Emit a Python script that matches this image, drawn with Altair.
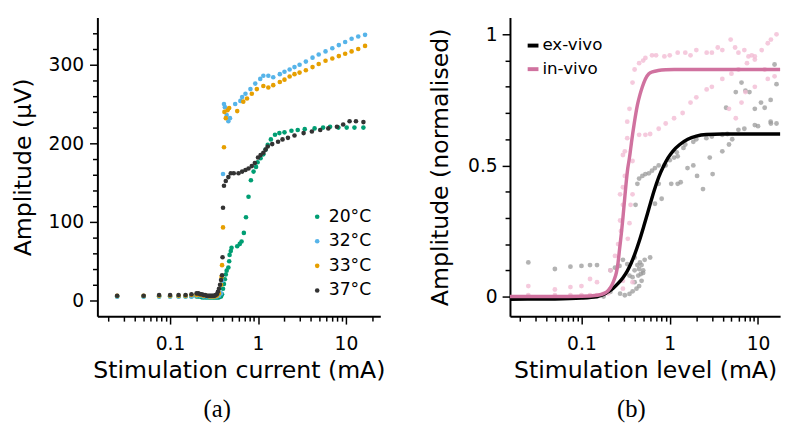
import altair as alt
import pandas as pd

FONT = "DejaVu Sans"

# ---------------- Panel (a): amplitude vs stimulation current ----------------
temps = ["20°C", "32°C", "33°C", "37°C"]
temp_colors = ["#009E73", "#56B4E9", "#E69F00", "#333333"]

x_20 = [0.025, 0.05, 0.075, 0.1, 0.125, 0.15, 0.175, 0.2, 0.21, 0.22, 0.23, 0.24, 0.25, 0.26,
        0.27, 0.28, 0.29, 0.30, 0.31, 0.32, 0.33, 0.34, 0.35, 0.36, 0.37, 0.38,
        0.39, 0.40, 0.41, 0.42, 0.43, 0.44, 0.46, 0.47, 0.475, 0.49, 0.50, 0.58, 0.62, 0.65,
        0.69, 0.73, 0.78, 0.83, 0.89, 0.95, 0.99, 1.07, 1.15, 1.22, 1.29, 1.4, 1.56, 1.75,
        2.0, 2.4, 2.83, 3.4, 4.4, 5.5, 6.6, 8.2, 10.2, 12.5, 15.8]
y_20 = [5, 5, 5, 5, 5, 5, 5, 5, 5, 5, 4, 4, 4, 4,
        4, 4, 4, 4, 4, 4, 4, 4, 4, 4, 5, 5,
        8, 15, 21, 27, 33, 38, 42, 50, 58, 63, 67, 69, 72, 75,
        86, 106, 132, 153, 164, 170, 176, 181, 186, 192, 198, 205, 211, 213,
        214, 216, 217, 218, 219, 220, 221, 220, 220, 220, 220]

x_32 = [0.025, 0.05, 0.075, 0.1, 0.125, 0.15, 0.175, 0.2, 0.22, 0.24, 0.26, 0.28, 0.30, 0.32,
        0.34, 0.36, 0.38, 0.39, 0.40, 0.41, 0.42, 0.44, 0.46, 0.48, 0.55, 0.63, 0.66, 0.72,
        0.82, 0.93, 1.06, 1.15, 1.31, 1.49, 1.77, 2.0, 2.29, 2.6, 2.97, 3.5, 4.17, 4.9,
        5.86, 7.0, 8.3, 9.8, 11.6, 13.8, 16.5]
y_32 = [5, 5, 5, 5, 5, 5, 5, 6, 6, 5, 5, 5, 5, 5,
        5, 6, 9, 25, 161, 250, 246, 236, 228, 232, 250, 254, 259, 263,
        269, 276, 282, 286, 286, 284, 288, 291, 294, 297, 300, 304, 309, 313,
        317, 321, 325, 329, 333, 336, 338]

x_33 = [0.025, 0.05, 0.075, 0.1, 0.125, 0.15, 0.175, 0.2, 0.22, 0.24, 0.26, 0.28, 0.30, 0.32,
        0.34, 0.36, 0.38, 0.385, 0.39, 0.40, 0.41, 0.415, 0.43, 0.45, 0.47, 0.58, 0.68, 0.75,
        0.85, 0.97, 1.15, 1.31, 1.49, 1.77, 2.0, 2.29, 2.6, 2.97, 3.5, 4.17, 4.9,
        5.86, 7.0, 8.3, 9.8, 11.6, 13.8, 16.5]
y_33 = [6, 6, 6, 6, 6, 6, 7, 7, 7, 6, 6, 5, 5, 5,
        6, 9, 20, 30, 45, 93, 195, 240, 232, 242, 245, 241, 253, 257,
        263, 269, 273, 271, 274, 278, 281, 285, 288, 290, 293, 297, 301,
        305, 308, 311, 314, 317, 320, 324]

x_37 = [0.025, 0.05, 0.075, 0.1, 0.125, 0.15, 0.175, 0.2, 0.21, 0.22, 0.23, 0.24, 0.25, 0.26,
        0.27, 0.28, 0.29, 0.30, 0.31, 0.32, 0.33, 0.34, 0.35, 0.36, 0.37, 0.38, 0.39, 0.395,
        0.40, 0.41, 0.43, 0.46, 0.49, 0.53, 0.6, 0.66, 0.72, 0.78, 0.85, 0.92, 1.0, 1.07,
        1.15, 1.22, 1.29, 1.45, 1.69, 1.9, 2.19, 2.6, 3.3, 4.1, 5.1, 6.3, 7.9, 9.3, 11.0,
        13.0, 15.8]
y_37 = [6, 6, 7, 7, 7, 7, 8, 9, 9, 8, 8, 7, 7, 6,
        6, 6, 6, 6, 6, 6, 7, 8, 11, 15, 20, 26, 32, 55,
        118, 146, 152, 157, 162, 162, 162, 164, 166, 168, 171, 175, 182, 185,
        188, 192, 196, 199, 202, 205, 207, 210, 213, 215, 217, 219, 221, 224, 228,
        228, 227]

rows = []
for name, xs, ys in [("20°C", x_20, y_20), ("32°C", x_32, y_32), ("33°C", x_33, y_33), ("37°C", x_37, y_37)]:
    for xv, yv in zip(xs, ys):
        rows.append({"current": xv, "amp": yv, "temp": name})
df_a = pd.DataFrame(rows)

xmajor = [0.1, 1, 10]
xminor_a = [0.02, 0.03, 0.04, 0.05, 0.06, 0.07, 0.08, 0.09, 0.2, 0.3, 0.4, 0.5, 0.6, 0.7, 0.8, 0.9,
            2, 3, 4, 5, 6, 7, 8, 9, 20]
ymajor_a = [0, 100, 200, 300]
yminor_a = [20, 40, 60, 80, 120, 140, 160, 180, 220, 240, 260, 280, 320, 340]

# ---------------- Panel (b): normalised amplitude ----------------
ex_x = [0.025, 0.05, 0.075, 0.1, 0.125, 0.15,
        0.025, 0.05, 0.075, 0.1, 0.125, 0.15, 0.178,
        0.213, 0.24, 0.27, 0.295, 0.33, 0.379, 0.40, 0.45, 0.47, 0.40, 0.60, 0.213, 0.274, 0.31,
        0.35, 0.38, 0.42, 0.45, 0.48, 0.5, 0.43, 0.46, 0.48, 0.5, 0.35, 0.4, 0.44, 0.52,
        0.41, 0.43, 0.45, 0.49, 0.53, 0.58, 0.63, 0.68, 0.75, 0.87, 1.12, 1.43, 1.85, 2.6, 3.94,
        6.0, 9.2, 13.9, 16.2,
        0.68, 0.81, 1.04, 1.23, 1.33, 1.59, 1.85, 2.38, 2.04, 1.23, 0.75, 2.84, 3.06, 3.94, 4.69, 5.1,
        4.35, 5.6, 6.5, 7.2, 8.0, 9.2, 11.9, 13.9, 15.4, 16.2, 10.8,
        1.5, 2.0, 3.0, 4.5, 7.0, 10.0, 14.0, 1.0, 1.2, 0.9]
ex_y = [0.13, 0.105, 0.114, 0.117, 0.12, 0.12,
        0.0, 0.0, 0.0, 0.0, 0.0, 0.0, 0.0,
        0.10, 0.11, 0.117, 0.14, 0.124, 0.074, 0.055, 0.105, 0.086, 0.149, 0.149, 0.018, 0.011, 0.005,
        0.01, 0.02, 0.03, 0.04, 0.06, 0.09, 0.12, 0.13, 0.12, 0.10, 0.08, 0.10, 0.08, 0.14,
        0.35, 0.43, 0.45, 0.46, 0.467, 0.47, 0.48, 0.49, 0.50, 0.50, 0.53, 0.567, 0.59, 0.604, 0.617,
        0.636, 0.654, 0.667, 0.66,
        0.354, 0.373, 0.43, 0.43, 0.436, 0.49, 0.50, 0.41, 0.46, 0.535, 0.43, 0.53, 0.467, 0.554, 0.58, 0.60,
        0.72, 0.78, 0.816, 0.785, 0.78, 0.716, 0.72, 0.75, 0.885, 0.81, 0.74,
        0.58, 0.60, 0.61, 0.62, 0.64, 0.65, 0.66, 0.52, 0.55, 0.5]

in_x = [0.025, 0.05, 0.075, 0.1, 0.125, 0.15, 0.025, 0.05, 0.075, 0.1, 0.125, 0.15, 0.178, 0.2,
        0.213, 0.213, 0.24, 0.274, 0.295, 0.295, 0.295, 0.274, 0.31, 0.31, 0.295, 0.335, 0.35, 0.36,
        0.379, 0.379, 0.33, 0.33, 0.35, 0.379, 0.40, 0.45, 0.26, 0.28,
        0.5, 0.53, 0.63, 0.7, 0.87, 1.0, 1.23, 1.5, 1.72, 2.0, 2.62, 3.0, 3.5, 3.94, 4.9, 5.5,
        6.0, 7.0, 7.8, 8.5, 9.2, 11.9, 15.4,
        0.295, 0.379, 0.45, 0.53, 0.6, 0.75, 0.9, 1.12, 1.4, 1.72, 2.0, 2.62, 3.0, 3.94, 5.0, 6.0,
        7.5, 9.2, 11.0, 12.9, 14.0, 16.2,
        4.69, 5.6, 6.5, 7.2, 9.2, 12.9]
in_y = [0.04, 0.027, 0.036, 0.04, 0.067, 0.055, 0.005, 0.005, 0.005, 0.005, 0.005, 0.005, 0.01, 0.012,
        0.03, 0.1, 0.155, 0.29, 0.35, 0.06, 0.03, 0.39, 0.46, 0.554, 0.54, 0.22, 0.28, 0.35,
        0.39, 0.055, 0.604, 0.667, 0.716, 0.816, 0.866, 0.89, 0.2, 0.25,
        0.9, 0.91, 0.92, 0.92, 0.916, 0.92, 0.93, 0.93, 0.92, 0.94, 0.93, 0.93, 0.95, 0.94, 0.98, 0.95,
        0.93, 0.94, 0.916, 0.92, 0.904, 0.866, 0.84,
        0.417, 0.517, 0.617, 0.617, 0.62, 0.64, 0.66, 0.68, 0.70, 0.74, 0.76, 0.79, 0.80, 0.83, 0.85, 0.866,
        0.89, 0.916, 0.94, 0.966, 0.98, 1.0,
        0.716, 0.68, 0.74, 0.78, 0.80, 0.83]

fit_ex_x = [0.0155, 0.05, 0.1, 0.15, 0.178, 0.2, 0.229, 0.26, 0.295, 0.33, 0.363, 0.40, 0.45, 0.51,
            0.58, 0.66, 0.75, 0.85, 0.96, 1.1, 1.3, 1.6, 2.0, 2.6, 4.0, 8.0, 17.8]
fit_ex_y = [-0.01, -0.009, -0.006, 0.0, 0.008, 0.018, 0.032, 0.05, 0.072, 0.097, 0.125, 0.16, 0.21, 0.27,
            0.335, 0.40, 0.455, 0.497, 0.53, 0.557, 0.58, 0.60, 0.612, 0.618, 0.62, 0.62, 0.62]
fit_in_x = [0.0155, 0.05, 0.1, 0.15, 0.178, 0.2, 0.22, 0.235, 0.249, 0.26, 0.27, 0.283, 0.295, 0.308,
            0.32, 0.335, 0.35, 0.363, 0.38, 0.396, 0.43, 0.46, 0.49, 0.53, 0.58, 0.65, 0.74, 0.9,
            1.12, 2.0, 5.0, 10.0, 17.8]
fit_in_y = [0.0, 0.0, 0.001, 0.005, 0.011, 0.022, 0.042, 0.065, 0.092, 0.13, 0.18, 0.24, 0.30, 0.37,
            0.43, 0.49, 0.53, 0.57, 0.62, 0.66, 0.73, 0.77, 0.80, 0.83, 0.85, 0.858, 0.862, 0.865,
            0.866, 0.866, 0.866, 0.866, 0.866]

groups = ["ex-vivo", "in-vivo"]
group_colors = ["#000000", "#d0729f"]

df_ex = pd.DataFrame({"level": ex_x, "norm": ex_y})
df_in = pd.DataFrame({"level": in_x, "norm": in_y})
df_fit = pd.concat([
    pd.DataFrame({"level": fit_ex_x, "norm": fit_ex_y, "group": "ex-vivo"}),
    pd.DataFrame({"level": fit_in_x, "norm": fit_in_y, "group": "in-vivo"}),
])

ymajor_b = [0, 0.5, 1]
yminor_b = [0.1, 0.2, 0.3, 0.4, 0.6, 0.7, 0.8, 0.9]
xminor_b = [0.02, 0.03, 0.04, 0.05, 0.06, 0.07, 0.08, 0.09, 0.2, 0.3, 0.4, 0.5, 0.6, 0.7, 0.8, 0.9,
            2, 3, 4, 5, 6, 7, 8, 9]

# ---------------- build ----------------
def minor_layer(xname, yname, xs, ys, xvals, yvals):
    d = pd.DataFrame({xname: [1.0], yname: [0.0]})
    return alt.Chart(d).mark_circle(opacity=0).encode(
        x=alt.X(f"{xname}:Q", scale=xs, axis=alt.Axis(values=xvals, labels=False, domain=False,
                                                     tickSize=5, title=None, orient="bottom")),
        y=alt.Y(f"{yname}:Q", scale=ys, axis=alt.Axis(values=yvals, labels=False, domain=False,
                                                     tickSize=5, title=None, orient="left")),
    )

xs_a = alt.Scale(type="log", domain=[0.0149, 24.6], nice=False)
ys_a = alt.Scale(domain=[-20, 360], nice=False, zero=False)

pts_a = alt.Chart(df_a).mark_circle(size=22, opacity=1).encode(
    x=alt.X("current:Q", scale=xs_a,
            axis=alt.Axis(values=xmajor, format="~g", tickSize=8, labelPadding=11,
                          title="Stimulation current (mA)", titlePadding=5, orient="bottom")),
    y=alt.Y("amp:Q", scale=ys_a,
            axis=alt.Axis(values=ymajor_a, tickSize=8, labelPadding=6,
                          title="Amplitude (μV)", titlePadding=13, orient="left")),
    color=alt.Color("temp:N", scale=alt.Scale(domain=temps, range=temp_colors),
                    legend=alt.Legend(title=None, orient="none", legendX=215, legendY=194,
                                      labelFontSize=17.5, labelFont=FONT, symbolSize=22,
                                      symbolType="circle", rowPadding=6, labelOffset=3, padding=0)),
)

panel_a = alt.layer(pts_a, minor_layer("current", "amp", xs_a, ys_a, xminor_a, yminor_a)).resolve_axis(
    x="independent", y="independent"
).properties(
    width=288, height=304,
    title=alt.TitleParams("(a)", orient="bottom", font="Liberation Serif", fontSize=25,
                          fontWeight="normal", offset=16, dx=-22),
)

xs_b = alt.Scale(type="log", domain=[0.0155, 17.8], nice=False)
ys_b = alt.Scale(domain=[-0.075, 1.064], nice=False, zero=False)

pts_ex = alt.Chart(df_ex).mark_circle(size=24, color="#9a9a9a", opacity=0.75).encode(
    x=alt.X("level:Q", scale=xs_b,
            axis=alt.Axis(values=xmajor, format="~g", tickSize=8, labelPadding=11,
                          title="Stimulation level (mA)", titlePadding=5, orient="bottom")),
    y=alt.Y("norm:Q", scale=ys_b,
            axis=alt.Axis(values=ymajor_b, format="~g", tickSize=8, labelPadding=5,
                          title="Amplitude (normalised)", titlePadding=15, orient="left")),
)
pts_in = alt.Chart(df_in).mark_circle(size=24, color="#f2bdd5", opacity=0.8).encode(
    x=alt.X("level:Q", scale=xs_b, axis=None), y=alt.Y("norm:Q", scale=ys_b, axis=None),
)
fits = alt.Chart(df_fit).mark_line(strokeWidth=3.5, interpolate="monotone").encode(
    x=alt.X("level:Q", scale=xs_b, axis=None), y=alt.Y("norm:Q", scale=ys_b, axis=None),
    color=alt.Color("group:N", scale=alt.Scale(domain=groups, range=group_colors),
                    legend=alt.Legend(title=None, orient="none", legendX=15, legendY=20,
                                      labelFontSize=17, labelFont=FONT, symbolType="stroke",
                                      symbolSize=121, symbolStrokeWidth=4, rowPadding=6,
                                      labelOffset=1, padding=0)),
)

panel_b = alt.layer(pts_ex, pts_in, fits, minor_layer("level", "norm", xs_b, ys_b, xminor_b, yminor_b)).resolve_axis(
    x="independent", y="independent"
).properties(
    width=275, height=304,
    title=alt.TitleParams("(b)", orient="bottom", font="Liberation Serif", fontSize=25,
                          fontWeight="normal", offset=16, dx=-14),
)

chart = alt.hconcat(panel_a, panel_b, spacing=44).resolve_scale(
    color="independent"
).resolve_legend(color="independent").properties(
    padding={"left": 3, "top": 6, "right": 0, "bottom": 0}
).configure_view(stroke=None).configure_axis(
    domainColor="black", domainWidth=2, tickColor="black", tickWidth=1.5,
    labelColor="black", titleColor="black", labelFont=FONT, titleFont=FONT,
    labelFontSize=19, titleFontSize=24, titleFontWeight="normal", grid=False,
).configure_legend(labelColor="black")

chart.save("out.html", embed_options={"renderer": "svg", "actions": False})
